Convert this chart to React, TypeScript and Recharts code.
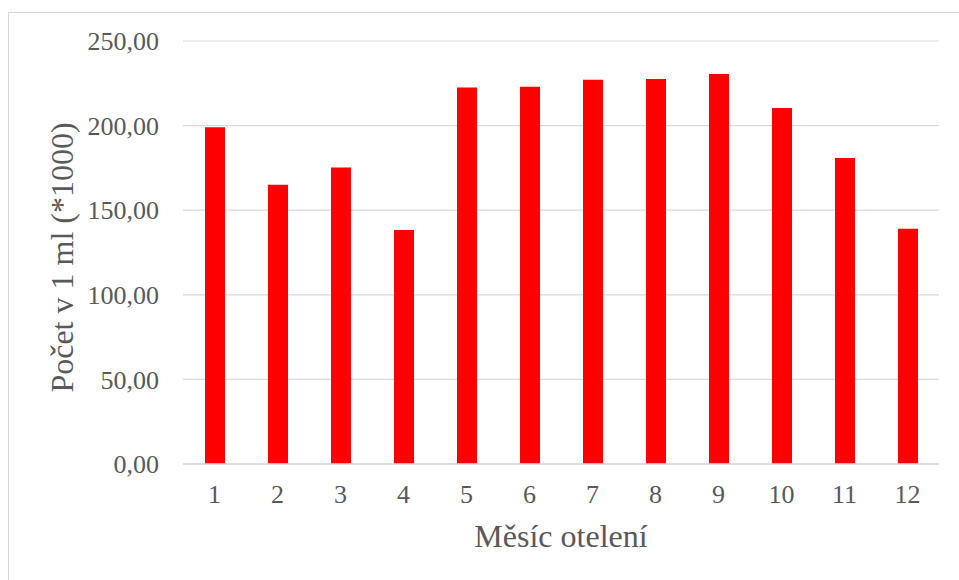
import React from "react";
import {
  BarChart,
  Bar,
  XAxis,
  YAxis,
  CartesianGrid,
} from "recharts";

const months = ["1", "2", "3", "4", "5", "6", "7", "8", "9", "10", "11", "12"];
const counts = [199, 165, 175.3, 138.3, 222.5, 223, 227.1, 227.5, 230.5, 210.4, 180.8, 139.1];
const yTicks = [0, 50, 100, 150, 200, 250];

const data = months.map((m, i) => ({ month: m, count: counts[i] }));

const FONT = '"Liberation Serif", "Times New Roman", serif';
const TEXT_COLOR = "#595959";
const GRID_COLOR = "#d9d9d9";

const formatTick = (v: number) => v.toFixed(2).replace(".", ",");

export default function App() {
  return (
    <div
      style={{
        position: "absolute",
        left: 0,
        top: 0,
        width: 959,
        height: 580,
        overflow: "hidden",
        background: "#fff",
        fontFamily: FONT,
      }}
    >
      <div
        style={{
          position: "absolute",
          left: 8,
          top: 12,
          width: 1200,
          height: 1000,
          borderLeft: `1.5px solid ${GRID_COLOR}`,
          borderTop: `1.5px solid ${GRID_COLOR}`,
        }}
      />
      <BarChart
        width={959}
        height={580}
        data={data}
        margin={{ top: 41, right: 20, left: 0, bottom: 0 }}
        style={{ position: "absolute", left: 0, top: 0 }}
      >
        <CartesianGrid vertical={false} stroke={GRID_COLOR} strokeWidth={1.2} />
        <XAxis
          dataKey="month"
          height={116}
          tickLine={false}
          tickSize={0}
          tickMargin={21}
          axisLine={{ stroke: GRID_COLOR, strokeWidth: 1.5 }}
          tick={{ fontSize: 26, fill: TEXT_COLOR, fontFamily: FONT }}
          label={{
            value: "Měsíc otelení",
            position: "insideBottom",
            offset: 33,
            style: { fontSize: 32, fill: TEXT_COLOR, fontFamily: FONT },
          }}
        />
        <YAxis
          width={183}
          domain={[0, 250]}
          ticks={yTicks}
          tickFormatter={formatTick}
          tickLine={false}
          tickSize={0}
          tickMargin={24}
          axisLine={false}
          tick={{ fontSize: 26, fill: TEXT_COLOR, fontFamily: FONT }}
          label={{
            value: "Počet v 1 ml (*1000)",
            angle: -90,
            position: "insideLeft",
            offset: 62,
            dy: 5,
            style: { textAnchor: "middle", fontSize: 32, fill: TEXT_COLOR, fontFamily: FONT },
          }}
        />
        <Bar dataKey="count" fill="#ff0000" barSize={20} isAnimationActive={false} />
      </BarChart>
    </div>
  );
}
